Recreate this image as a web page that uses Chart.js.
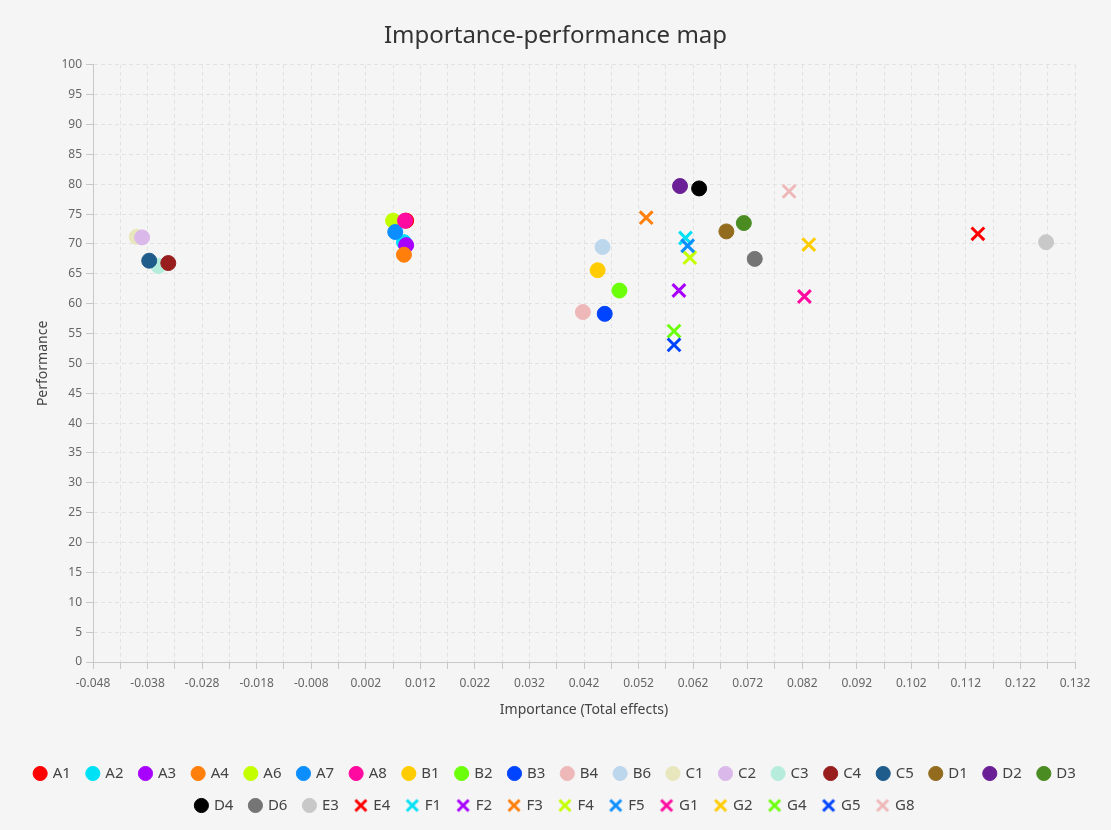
<!DOCTYPE html>
<html>
<head>
<meta charset="utf-8">
<script src="https://cdn.jsdelivr.net/npm/chart.js@4/dist/chart.umd.min.js"></script>
<style>
  html, body { margin: 0; padding: 0; background: #f5f5f5; }
  #wrap { width: 1111px; height: 830px; }
</style>
</head>
<body>
<div id="wrap"><canvas id="ipmChart"></canvas></div>
<script>
// factors, in legend order
const labels = ['A1', 'A2', 'A3', 'A4', 'A6', 'A7', 'A8', 'B1', 'B2', 'B3', 'B4', 'B6',
    'C1', 'C2', 'C3', 'C4', 'C5', 'D1', 'D2', 'D3', 'D4', 'D6', 'E3', 'E4',
    'F1', 'F2', 'F3', 'F4', 'F5', 'G1', 'G2', 'G4', 'G5', 'G8'];

// x: importance (total effects)
const importance = [0.0094, 0.0090, 0.0094, 0.0090, 0.0070, 0.0074, 0.0092, 0.0445, 0.0485, 0.0458, 0.0418, 0.0454,
    -0.0400, -0.0390, -0.0360, -0.0342, -0.0377, 0.0681, 0.0596, 0.0713, 0.0631, 0.0733, 0.1267, 0.1142,
    0.0606, 0.0594, 0.0534, 0.0614, 0.0610, 0.0824, 0.0832, 0.0585, 0.0585, 0.0796];

// y: performance
const performance = [73.9, 70.3, 69.8, 68.2, 73.9, 72.0, 73.9, 65.6, 62.2, 58.3, 58.6, 69.5,
    71.2, 71.1, 66.3, 66.8, 67.2, 72.1, 79.7, 73.5, 79.3, 67.5, 70.3, 71.7,
    71.0, 62.2, 74.4, 67.7, 69.7, 61.2, 69.9, 55.4, 53.1, 78.8];

const markers = ['circle', 'circle', 'circle', 'circle', 'circle', 'circle', 'circle', 'circle', 'circle', 'circle', 'circle', 'circle',
    'circle', 'circle', 'circle', 'circle', 'circle', 'circle', 'circle', 'circle', 'circle', 'circle', 'circle', 'crossRot',
    'crossRot', 'crossRot', 'crossRot', 'crossRot', 'crossRot', 'crossRot', 'crossRot', 'crossRot', 'crossRot', 'crossRot'];

const colors = ['#ff0000', '#00e1f5', '#a800ff', '#ff7f0a', '#c4ff00', '#0c8eff', '#ff0aa0', '#ffcc00', '#6cff0a', '#0044ff', '#eeb8b8', '#bcd6ec',
    '#e8e6bc', '#dab8ea', '#b6ecdc', '#981e1e', '#1f5c8c', '#936b1e', '#6a1f96', '#4a8c22', '#000000', '#757575', '#c8c8c8', '#ff0000',
    '#00e1f5', '#a800ff', '#ff7f0a', '#c4ff00', '#0c8eff', '#ff0aa0', '#ffcc00', '#6cff0a', '#0044ff', '#eeb8b8'];

const xMin = -0.048, xMax = 0.132, xStep = 0.005;
const yMin = 0, yMax = 100, yStep = 5;

const FONT = "'Noto Sans', 'Open Sans', sans-serif";

// later series sit on top of earlier ones (A8 over A1, A3 over A2)
const datasets = labels.map((name, i) => {
    const isCross = markers[i] === 'crossRot';
    return {
        label: name,
        data: [{ x: importance[i], y: performance[i] }],
        order: labels.length - i,
        pointStyle: markers[i],
        pointRadius: isCross ? 9 : 7.5,
        pointHoverRadius: isCross ? 9 : 7.5,
        backgroundColor: colors[i],
        borderColor: colors[i],
        borderWidth: isCross ? 3 : 1
    };
});

// small X icon for the legend, a bit larger than the built-in one
function crossIcon(color) {
    const c = document.createElement('canvas');
    c.width = 16;
    c.height = 16;
    const g = c.getContext('2d');
    g.strokeStyle = color;
    g.lineWidth = 3;
    g.beginPath();
    g.moveTo(2.5, 2.5); g.lineTo(13.5, 13.5);
    g.moveTo(13.5, 2.5); g.lineTo(2.5, 13.5);
    g.stroke();
    return c;
}

const gridOpts = {
    color: '#e2e2e2',
    tickColor: '#c8c8c8',
    tickLength: 7,
    tickBorderDash: []
};
const borderOpts = { color: '#c8c8c8', width: 1, dash: [4, 3] };

new Chart(document.getElementById('ipmChart'), {
    type: 'scatter',
    data: { datasets: datasets },
    options: {
        responsive: true,
        maintainAspectRatio: false,
        animation: false,
        layout: { padding: { left: 12, right: 12, top: 14, bottom: 7 } },
        plugins: {
            title: {
                display: true,
                text: 'Importance-performance map',
                color: '#333',
                font: { family: FONT, size: 24, weight: 'normal' },
                padding: { top: 8, bottom: 14 }
            },
            legend: {
                position: 'bottom',
                labels: {
                    usePointStyle: true,
                    boxWidth: 10,
                    boxHeight: 10,
                    padding: 17,
                    color: '#444',
                    font: { family: FONT, size: 15 },
                    generateLabels: (chart) => {
                        const items = Chart.defaults.plugins.legend.labels.generateLabels(chart);
                        items.sort((a, b) => a.datasetIndex - b.datasetIndex);
                        items.forEach(it => {
                            if (markers[it.datasetIndex] === 'crossRot') {
                                it.pointStyle = crossIcon(colors[it.datasetIndex]);
                            }
                        });
                        return items;
                    }
                }
            },
            tooltip: { enabled: false }
        },
        scales: {
            x: {
                type: 'linear',
                min: xMin,
                max: xMax,
                ticks: {
                    stepSize: xStep,
                    autoSkip: false,
                    maxRotation: 0,
                    padding: 7,
                    color: '#666',
                    font: { family: FONT, size: 12 },
                    callback: (v, i) => i % 2 === 0 ? v.toFixed(3) : ''
                },
                grid: gridOpts,
                border: borderOpts,
                title: {
                    display: true,
                    text: 'Importance (Total effects)',
                    color: '#444',
                    font: { family: FONT, size: 14 },
                    padding: { top: 4, bottom: 31 }
                },
                afterFit: (scale) => { scale.height = 87; scale.paddingRight = 36; }
            },
            y: {
                min: yMin,
                max: yMax,
                ticks: {
                    stepSize: yStep,
                    padding: 4,
                    color: '#666',
                    font: { family: FONT, size: 12 }
                },
                grid: gridOpts,
                border: borderOpts,
                title: {
                    display: true,
                    text: 'Performance',
                    color: '#444',
                    font: { family: FONT, size: 14 },
                    padding: { top: 23, bottom: 0 }
                },
                afterFit: (scale) => { scale.width = 81; }
            }
        }
    }
});
</script>
</body>
</html>
